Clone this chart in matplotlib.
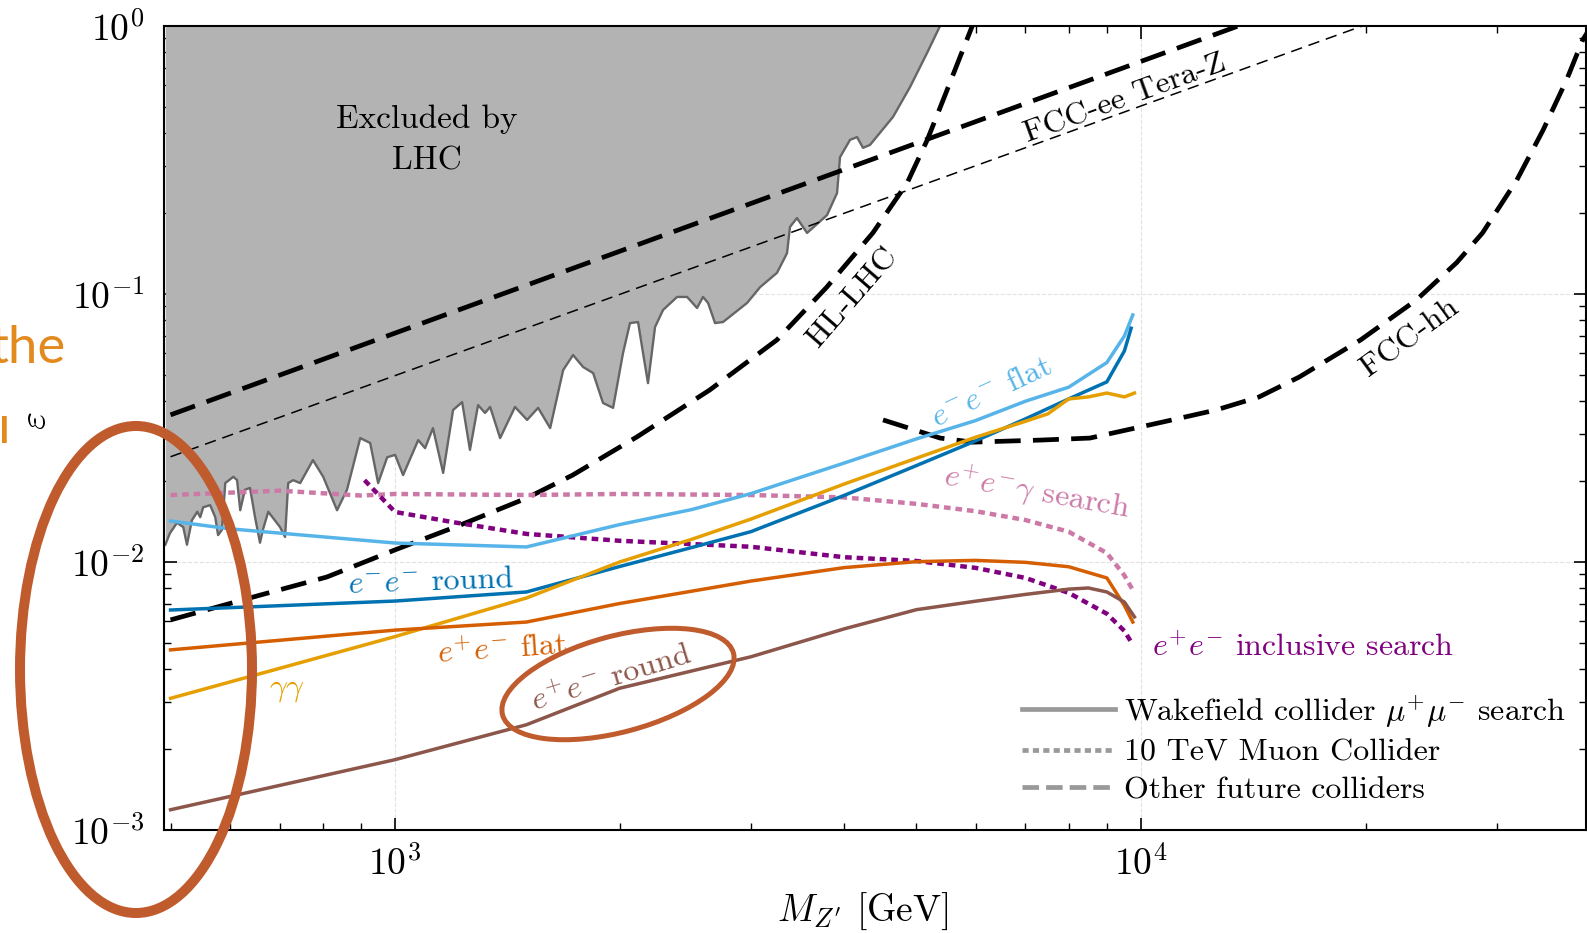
import matplotlib
matplotlib.use("Agg")
import matplotlib.pyplot as plt
from matplotlib.lines import Line2D
from matplotlib.patches import Ellipse
from matplotlib.transforms import IdentityTransform

plt.rcParams['font.family'] = 'cmr10'
plt.rcParams['mathtext.fontset'] = 'cm'
plt.rcParams['axes.formatter.use_mathtext'] = True

# LHC exclusion boundary (mass in GeV, epsilon)
lhc_m = [492, 499, 510, 520, 526, 534, 543, 548, 553, 565, 574, 579, 586, 592, 607, 614,
         620, 629, 639, 649, 659, 665, 676, 690, 701, 712, 719, 730, 746, 776, 801, 836,
         862, 898, 926, 949, 976, 1000, 1025, 1074, 1097, 1124, 1160, 1196, 1230, 1260,
         1292, 1320, 1341, 1383, 1448, 1503, 1555, 1614, 1680, 1732, 1787, 1843, 1900,
         1960, 2021, 2065, 2117, 2150, 2183, 2231, 2287, 2388, 2463, 2540, 2587, 2628,
         2685, 2752, 2964, 3085, 3251, 3353, 3384, 3458, 3567, 3794, 3913, 3949, 4073,
         4162, 4240, 4332, 4651, 4902, 5166, 5377]
lhc_eps = [0.0116, 0.0128, 0.014, 0.0135, 0.0116, 0.0143, 0.0154, 0.0147, 0.016, 0.0163,
           0.0147, 0.0126, 0.0132, 0.0197, 0.0208, 0.0202, 0.0156, 0.0186, 0.0189, 0.0147,
           0.0118, 0.0132, 0.0154, 0.0143, 0.0135, 0.0124, 0.0197, 0.0202, 0.0197, 0.024,
           0.0208, 0.0156, 0.0186, 0.029, 0.0278, 0.0197, 0.0246, 0.0251, 0.0211, 0.0285,
           0.0266, 0.0316, 0.0215, 0.0369, 0.0395, 0.0262, 0.0385, 0.036, 0.0379, 0.029,
           0.0379, 0.0339, 0.0376, 0.0316, 0.052, 0.0592, 0.0534, 0.0507, 0.0392, 0.0376,
           0.0602, 0.0779, 0.0786, 0.0602, 0.0465, 0.0753, 0.0872, 0.0975, 0.0975, 0.0887,
           0.0975, 0.0926, 0.0779, 0.0786, 0.0926, 0.106, 0.12, 0.142, 0.178, 0.192, 0.169,
           0.197, 0.238, 0.324, 0.376, 0.385, 0.351, 0.36, 0.458, 0.592, 0.793, 1.0]

ee_round_m = [500, 700, 1000, 1500, 2000, 2500, 3000, 4000, 5000, 6000, 7000, 8000, 9000, 9500, 9700]
ee_round = [0.00662, 0.00687, 0.00715, 0.00773, 0.00962, 0.01133, 0.01298, 0.01772, 0.0229,
            0.0283, 0.0342, 0.0406, 0.0470, 0.0613, 0.0745]

ee_flat_m = [500, 600, 1000, 1500, 2000, 2500, 3000, 4000, 5000, 6000, 7000, 8000, 9000, 9500, 9750]
ee_flat = [0.01422, 0.01330, 0.01177, 0.01138, 0.01379, 0.01570, 0.0180, 0.0234, 0.0288,
           0.0337, 0.0398, 0.0449, 0.0555, 0.0697, 0.0835]

gg_m = [500, 700, 1000, 1500, 2000, 2500, 3000, 4000, 5000, 6000, 7000, 7500, 8000, 8500,
        9000, 9500, 9800]
gg = [0.00310, 0.00401, 0.00527, 0.00734, 0.0100, 0.01216, 0.01446, 0.01954, 0.0244, 0.0292,
      0.0335, 0.0357, 0.0406, 0.0413, 0.0427, 0.0413, 0.0427]

pp_flat_m = [500, 1000, 1500, 2000, 3000, 4000, 5000, 6000, 7000, 8000, 9000, 9500, 9750]
pp_flat = [0.00470, 0.00557, 0.00597, 0.00700, 0.00849, 0.00953, 0.01003, 0.01014, 0.00997,
           0.00960, 0.00872, 0.00688, 0.00597]

pp_round_m = [500, 1000, 1500, 2000, 3000, 4000, 5000, 6000, 7000, 8000, 8500, 9000, 9500, 9800]
pp_round = [0.00119, 0.00183, 0.00247, 0.00338, 0.00443, 0.00563, 0.00664, 0.00714, 0.00757,
            0.00792, 0.00800, 0.00773, 0.00709, 0.00624]

ppg_m = [500, 700, 900, 1000, 1500, 2000, 3000, 4000, 5000, 6000, 7000, 8000, 9000, 9500, 9750]
ppg = [0.01778, 0.01846, 0.01770, 0.01794, 0.01778, 0.01794, 0.01778, 0.01742, 0.01648,
       0.01547, 0.01434, 0.01297, 0.01080, 0.00891, 0.00786]

incl_m = [910, 1000, 1200, 1500, 2000, 3000, 4000, 5000, 6000, 7000, 8000, 9000, 9500, 9700]
incl = [0.0202, 0.01537, 0.01406, 0.01273, 0.0120, 0.01140, 0.01042, 0.01009, 0.00951,
        0.00872, 0.00767, 0.00641, 0.00553, 0.00503]

hllhc_m = [500, 660, 810, 1000, 1220, 1500, 1730, 2110, 2640, 3250, 3790, 4370, 4860, 5170,
           5430, 5720, 5940]
hllhc = [0.00608, 0.00753, 0.00879, 0.0111, 0.0137, 0.0173, 0.0211, 0.0293, 0.0438, 0.0674,
         0.106, 0.169, 0.26, 0.376, 0.53, 0.766, 1.0]

fcchh_m = [4510, 5380, 5950, 7320, 8540, 10700, 12600, 14400, 16300, 19700, 23400, 26500,
           28700, 31900, 34600, 37200, 39100, 40000]
fcchh = [0.0339, 0.029, 0.028, 0.0285, 0.029, 0.0333, 0.0369, 0.0413, 0.049, 0.0674, 0.095,
         0.131, 0.169, 0.266, 0.409, 0.629, 0.887, 0.983]

teraz_m = [500, 13500]
teraz = [0.0354, 1.0]
teraz2_m = [500, 19800]
teraz2 = [0.0247, 1.0]

c_eeflat = '#56B4E9'
c_eeround = '#0072B2'
c_gg = '#E69F00'
c_ppflat = '#D55E00'
c_ppround = '#8C564B'
c_ppg = '#CC79A7'
c_incl = '#800080'
c_mark = '#BF5B2D'
c_slide = '#E38A1E'

W, H = 1587, 933
fig = plt.figure(figsize=(W/100, H/100), dpi=100)
ax = fig.add_axes([164/W, 1-830/H, (1586-164)/W, (830-26)/H])
ax.set_xscale('log')
ax.set_yscale('log')
ax.set_xlim(490, 39500)
ax.set_ylim(1e-3, 1)

ax.grid(True, which='major', color='#e2e2e2', linestyle='--', linewidth=0.8)
ax.set_axisbelow(True)

ax.fill_between(lhc_m, lhc_eps, 1.0, color='#b3b3b3', lw=0, zorder=1)
ax.plot(lhc_m, lhc_eps, color='#666666', lw=1.7, zorder=1.5)

thick = dict(color='k', lw=3.4, dashes=(5.5, 2.6), zorder=3)
ax.plot(teraz_m, teraz, **thick)
ax.plot(teraz2_m, teraz2, color='k', lw=1.1, dashes=(7.5, 4.5), zorder=3)
ax.plot(hllhc_m, hllhc, **thick)
ax.plot(fcchh_m, fcchh, **thick)

ax.plot(ppg_m, ppg, color=c_ppg, lw=3.2, dashes=(1.5, 1.1), zorder=4)
ax.plot(incl_m, incl, color=c_incl, lw=3.2, dashes=(1.5, 1.1), zorder=4)
ax.plot(ee_flat_m, ee_flat, color=c_eeflat, lw=2.5, zorder=5)
ax.plot(ee_round_m, ee_round, color=c_eeround, lw=2.5, zorder=5)
ax.plot(gg_m, gg, color=c_gg, lw=2.5, zorder=5)
ax.plot(pp_flat_m, pp_flat, color=c_ppflat, lw=2.5, zorder=5)
ax.plot(pp_round_m, pp_round, color=c_ppround, lw=2.5, zorder=5)

ax.tick_params(which='both', direction='in', top=True, right=True, labelsize=27)
ax.tick_params(which='major', length=9, width=1.2, pad=11)
ax.tick_params(which='minor', length=5, width=1.0)
ax.tick_params(axis='y', which='major', pad=14)
for s in ax.spines.values():
    s.set_linewidth(1.5)

def label(x, y, s, rot=0, color='k', size=23, **kw):
    fig.text(x/W, 1-y/H, s, rotation=rot, color=color, size=size,
             ha='center', va='center', **kw)

label(427, 140, 'Excluded by\nLHC', size=24, multialignment='center', linespacing=1.5)
label(1125, 99, 'FCC-ee Tera-Z', rot=20)
label(853, 298, 'HL-LHC', rot=49)
label(1410, 338, 'FCC-hh', rot=36)
label(992, 393, r'$e^{-}e^{-}$ flat', rot=25, color=c_eeflat)
label(431, 582, r'$e^{-}e^{-}$ round', rot=2, color=c_eeround)
label(1037, 492, r'$e^{+}e^{-}\gamma$ search', rot=-10, color=c_ppg)
label(1303, 647, r'$e^{+}e^{-}$ inclusive search', color=c_incl)
label(502, 650, r'$e^{+}e^{-}$ flat', rot=4, color=c_ppflat)
label(611, 678, r'$e^{+}e^{-}$ round', rot=17, color=c_ppround)
label(287, 690, r'$\gamma\gamma$', color=c_gg)

label(863, 911, r"$M_{Z'}$ [GeV]", size=27)
label(36, 421, r'$\varepsilon$', rot=90, size=28)

handles = [Line2D([], [], color='#999999', lw=3.4),
           Line2D([], [], color='#999999', lw=3.4, dashes=(1.3, 0.9)),
           Line2D([], [], color='#999999', lw=3.4, dashes=(3.5, 1.5))]
names = [r'Wakefield collider $\mu^{+}\mu^{-}$ search', '10 TeV Muon Collider',
         'Other future colliders']
fig.legend(handles, names, loc='upper left', bbox_to_anchor=(1022/W, 1-693/H),
           frameon=False, fontsize=23, handlelength=2.9, handletextpad=0.3,
           labelspacing=0.28, borderpad=0, borderaxespad=0)

# slide overlay marks (cut at the left edge)
fig.text(66/W, 1-363/H, 'the', ha='right', va='baseline', color=c_slide,
         family='Lato', size=38)
fig.text(11/W, 1-443/H, '\u0131', ha='right', va='baseline', color=c_slide,
         family=['Lato', 'DejaVu Sans'], size=38)
fig.add_artist(Ellipse((136, H-669.5), 232, 487, fill=False, ec=c_mark, lw=7.2,
                       transform=IdentityTransform(), zorder=10))
fig.add_artist(Ellipse((618, H-684), 239, 96, angle=15, fill=False, ec=c_mark, lw=3.6,
                       transform=IdentityTransform(), zorder=10))

fig.savefig('out.png', dpi=100)
